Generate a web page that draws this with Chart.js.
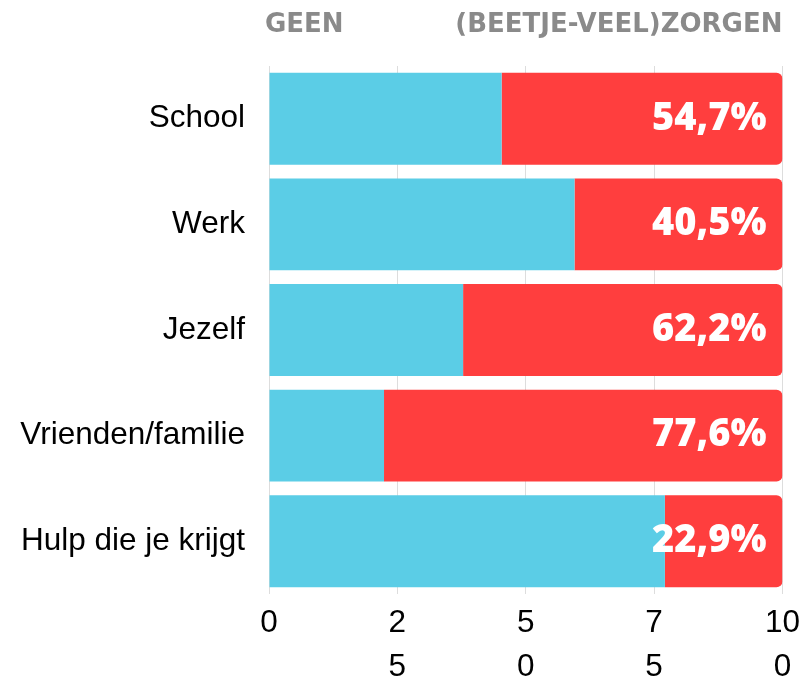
<!DOCTYPE html>
<html>
<head>
<meta charset="utf-8">
<script src="https://cdn.jsdelivr.net/npm/chart.js"></script>
<style>
  html, body { margin: 0; padding: 0; background: #fff; }
  #wrap { width: 807px; height: 683px; }
</style>
</head>
<body>
<div id="wrap"><canvas id="chart"></canvas></div>
<script>
const categories = ['School', 'Werk', 'Jezelf', 'Vrienden/familie', 'Hulp die je krijgt']
const geen = [45.3, 59.5, 37.8, 22.4, 77.1]
const zorgen = [54.7, 40.5, 62.2, 77.6, 22.9]
const zorgenLabels = ['54,7%', '40,5%', '62,2%', '77,6%', '22,9%']
const tickValues = [0, 25, 50, 75, 100]
const headerLeft = 'GEEN'
const headerRight = '(BEETJE-VEEL)ZORGEN'

const labelsPlugin = {
    id: 'labelsPlugin',
    afterDatasetsDraw(chart) {
        const ctx = chart.ctx
        const area = chart.chartArea
        const meta = chart.getDatasetMeta(1)
        ctx.save()
        ctx.fillStyle = '#ffffff'
        ctx.font = '800 38px "Open Sans", Lato, sans-serif'
        ctx.textAlign = 'right'
        ctx.textBaseline = 'middle'
        meta.data.forEach((bar, i) => {
            ctx.fillText(zorgenLabels[i], area.right - 16, bar.y)
        })
        ctx.restore()
    },
    afterDraw(chart) {
        const ctx = chart.ctx
        const area = chart.chartArea
        ctx.save()
        ctx.fillStyle = '#8a8a8a'
        ctx.font = 'bold 26px "DejaVu Sans", sans-serif'
        ctx.textBaseline = 'alphabetic'
        ctx.textAlign = 'left'
        ctx.fillText(headerLeft, area.left - 4, 32)
        ctx.textAlign = 'right'
        ctx.fillText(headerRight, area.right, 32)
        ctx.restore()
    }
}

new Chart(document.getElementById('chart'), {
    type: 'bar',
    data: {
        labels: categories,
        datasets: [
            {
                label: 'Geen',
                data: geen,
                backgroundColor: '#5bcde6',
                borderWidth: 0,
                borderRadius: 0
            },
            {
                label: '(Beetje-veel) zorgen',
                data: zorgen,
                backgroundColor: '#ff3e3e',
                borderWidth: 0,
                borderSkipped: false,
                borderRadius: { topLeft: 0, bottomLeft: 0, topRight: 6, bottomRight: 6 }
            }
        ]
    },
    options: {
        indexAxis: 'y',
        responsive: true,
        maintainAspectRatio: false,
        animation: false,
        layout: { padding: { top: 66, right: 22, left: 0, bottom: 0 } },
        plugins: {
            legend: { display: false },
            tooltip: { enabled: false }
        },
        datasets: { bar: { categoryPercentage: 0.87, barPercentage: 1 } },
        scales: {
            x: {
                stacked: true,
                min: 0,
                max: 100,
                afterBuildTicks(axis) {
                    axis.ticks = tickValues.map(v => ({ value: v }))
                },
                afterFit(axis) {
                    axis.height = 89
                },
                grid: { color: '#dddddd', drawTicks: false },
                border: { display: false },
                ticks: {
                    color: '#000',
                    padding: 7,
                    maxRotation: 0,
                    font: { family: '"Liberation Sans", Arial, sans-serif', size: 31.5, lineHeight: 1.4 },
                    callback(value) {
                        const s = String(value)
                        if (s.length < 2) return s
                        return [s.slice(0, s.length - 1), s.slice(-1)]
                    }
                }
            },
            y: {
                stacked: true,
                grid: { display: false },
                border: { display: false },
                afterFit(axis) {
                    axis.width = 269
                },
                ticks: {
                    color: '#000',
                    padding: 16,
                    font: { family: '"Liberation Sans", Arial, sans-serif', size: 31.5 }
                }
            }
        }
    },
    plugins: [labelsPlugin]
})
</script>
</body>
</html>
